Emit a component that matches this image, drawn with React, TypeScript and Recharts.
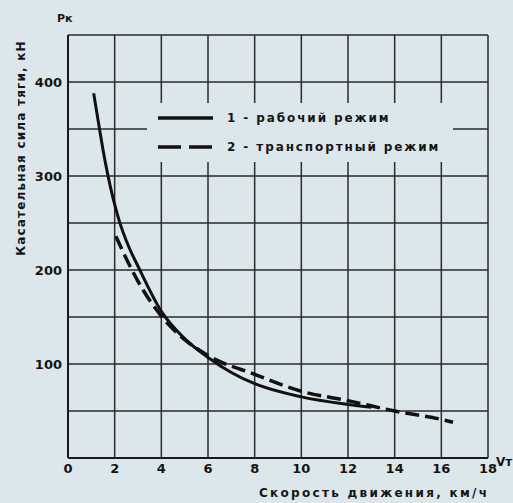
import React from 'react';
import { LineChart, Line, XAxis, YAxis, CartesianGrid, Legend } from 'recharts';

// скорость, км/ч
const workSpeed = [1.1, 1.35, 1.5, 1.7, 2.2, 2.6, 3, 4, 5, 6, 7, 8, 10, 12, 13];
// касательная сила тяги, кН
const workForce = [388, 350, 328, 302, 252, 225, 204, 156, 127, 107, 91, 79, 65, 57, 54];

const transSpeed = [2.05, 2.5, 3, 4, 5, 6, 8, 10, 12, 14, 16, 16.5];
const transForce = [236, 212, 188, 151, 126, 109, 89, 71, 61, 50, 41, 38];

const xTicks = [0, 2, 4, 6, 8, 10, 12, 14, 16, 18];
const yTicks = [0, 50, 100, 150, 200, 250, 300, 350, 400, 450];
const yLabels = [100, 200, 300, 400];

const seriesNames = ['1 - рабочий режим', '2 - транспортный режим'];

const work = workSpeed.map((v, i) => ({ v, p: workForce[i] }));
const trans = transSpeed.map((v, i) => ({ v, p: transForce[i] }));

const bg = '#dbe7ea';
const font = '"DejaVu Sans", sans-serif';

const LegendBox = () => (
  <div style={{ background: bg, width: 306, height: 59, fontFamily: font, fontWeight: 'bold', fontSize: 12, color: '#151515', letterSpacing: 1.9 }}>
    {seriesNames.map((name, i) => (
      <div key={name} style={{ display: 'flex', alignItems: 'center', height: 29, paddingLeft: 11, paddingTop: i === 0 ? 0 : 0 }}>
        <svg width={56} height={8}>
          <line x1={0} y1={4} x2={55} y2={4} stroke="#111" strokeWidth={3.5} strokeDasharray={i === 0 ? undefined : '23 8'} />
        </svg>
        <span style={{ marginLeft: 13 }}>{name}</span>
      </div>
    ))}
  </div>
);

const App = () => {
  return (
    <div style={{ position: 'absolute', left: 0, top: 0, width: 513, height: 503, background: bg, overflow: 'hidden' }}>
      <LineChart width={513} height={503} margin={{ top: 35, right: 25, bottom: 0, left: 28 }}>
        <CartesianGrid stroke="#2b2b2b" strokeWidth={1.5} />
        <XAxis
          type="number"
          dataKey="v"
          domain={[0, 18]}
          ticks={xTicks}
          allowDataOverflow
          height={45}
          tickLine={false}
          tickSize={0}
          tickMargin={6}
          axisLine={{ stroke: '#1a1a1a', strokeWidth: 2 }}
          tick={{ fill: '#151515', fontFamily: font, fontWeight: 'bold', fontSize: 13 }}
        />
        <YAxis
          type="number"
          dataKey="p"
          domain={[0, 450]}
          ticks={yTicks}
          width={40}
          tickLine={false}
          tickSize={0}
          tickMargin={6}
          axisLine={{ stroke: '#1a1a1a', strokeWidth: 2 }}
          tickFormatter={(t: number) => (yLabels.includes(t) ? String(t) : '')}
          tick={{ fill: '#151515', fontFamily: font, fontWeight: 'bold', fontSize: 13 }}
        />
        <Legend
          layout="vertical"
          align="center"
          verticalAlign="middle"
          wrapperStyle={{ left: 147, top: 103, width: 306 }}
          content={() => <LegendBox />}
        />
        <Line
          data={work}
          dataKey="p"
          name={seriesNames[0]}
          type="monotone"
          stroke="#111"
          strokeWidth={3}
          dot={false}
          isAnimationActive={false}
        />
        <Line
          data={trans}
          dataKey="p"
          name={seriesNames[1]}
          type="monotone"
          stroke="#111"
          strokeWidth={3.5}
          strokeDasharray="14 6"
          dot={false}
          isAnimationActive={false}
        />
      </LineChart>
      <div style={{ position: 'absolute', left: 57, top: 12, fontFamily: font, fontWeight: 'bold', fontSize: 11, color: '#151515' }}>Рк</div>
      <div style={{ position: 'absolute', left: 496, top: 455, fontFamily: font, fontWeight: 'bold', fontSize: 12, color: '#151515' }}>Vт</div>
      <div style={{ position: 'absolute', left: 259, top: 486, fontFamily: font, fontWeight: 'bold', fontSize: 12, color: '#151515', letterSpacing: 2.3, whiteSpace: 'nowrap' }}>
        Скорость движения, км/ч
      </div>
      <div
        style={{
          position: 'absolute',
          left: 21,
          top: 148,
          transform: 'translate(-50%, -50%) rotate(-90deg)',
          fontFamily: font,
          fontWeight: 'bold',
          fontSize: 12,
          color: '#151515',
          letterSpacing: 1.2,
          whiteSpace: 'nowrap',
        }}
      >
        Касательная сила тяги, кН
      </div>
    </div>
  );
};

export default App;
